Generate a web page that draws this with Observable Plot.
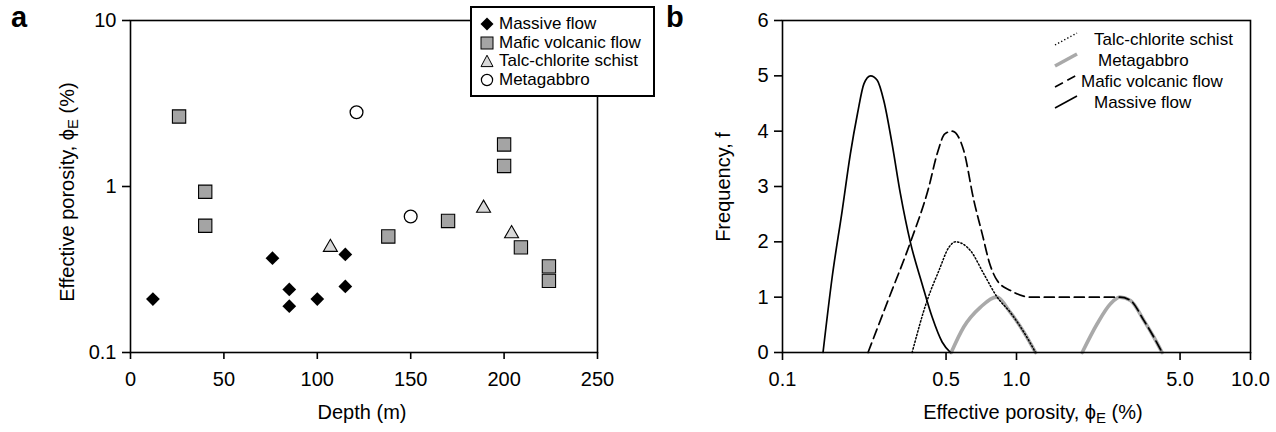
<!DOCTYPE html>
<html>
<head>
<meta charset="utf-8">
<script src="https://cdn.jsdelivr.net/npm/d3@7"></script>
<script src="https://cdn.jsdelivr.net/npm/@observablehq/plot@0.6"></script>
<style>
  html, body { margin: 0; padding: 0; background: white; }
  #wrap { position: relative; width: 1276px; height: 432px; overflow: hidden; font-family: "Liberation Sans", Arial, sans-serif; color: black; }
  #wrap svg { position: absolute; top: 0; }
  .lbl { position: absolute; white-space: nowrap; font-size: 20px; line-height: 1; }
  .panel { position: absolute; font-weight: bold; font-size: 29px; line-height: 1; }
  .leg { position: absolute; white-space: nowrap; font-size: 17px; line-height: 1; }
  sub { font-size: 0.75em; vertical-align: -0.25em; line-height: 0; }
</style>
</head>
<body>
<div id="wrap"></div>
<script>
// ---------- Panel a: effective porosity vs depth ----------
const xTicksA = [0, 50, 100, 150, 200, 250];
const yTicksA = [0.1, 1, 10];

const massiveDepth = [12, 76, 85, 85, 100, 115, 115];
const massivePhi   = [0.21, 0.37, 0.24, 0.19, 0.21, 0.39, 0.25];

const maficDepth = [26, 40, 40, 138, 170, 200, 200, 209, 224, 224];
const maficPhi   = [2.64, 0.93, 0.58, 0.50, 0.62, 1.79, 1.33, 0.43, 0.33, 0.27];

const talcDepth = [107, 189, 204];
const talcPhi   = [0.43, 0.74, 0.52];

const metaDepth = [121, 150];
const metaPhi   = [2.8, 0.66];

const legendA = ["Massive flow", "Mafic volcanic flow", "Talc-chlorite schist", "Metagabbro"];

// ---------- Panel b: frequency vs effective porosity ----------
const xTicksB = [0.1, 0.5, 1, 5, 10];
const yTicksB = [0, 1, 2, 3, 4, 5, 6];

const massiveBPhi = [0.149, 0.163, 0.180, 0.195, 0.209, 0.223, 0.238, 0.254, 0.271, 0.294, 0.319, 0.352, 0.395, 0.436, 0.481, 0.522];
const massiveBF   = [0, 1.36, 2.57, 3.59, 4.31, 4.86, 5.0, 4.92, 4.55, 3.77, 2.87, 1.99, 1.24, 0.64, 0.19, 0];

const maficBPhi = [0.232, 0.286, 0.352, 0.422, 0.458, 0.494, 0.531, 0.595, 0.657, 0.714, 0.769, 0.827, 0.943, 1.148, 1.787, 2.764, 3.07, 3.50, 3.86, 4.19];
const maficBF   = [0, 1.0, 1.99, 2.99, 3.59, 3.95, 4.0, 3.65, 2.75, 2.14, 1.60, 1.30, 1.12, 1.0, 1.0, 1.0, 0.94, 0.58, 0.28, 0];

const talcBPhi = [0.358, 0.415, 0.466, 0.514, 0.549, 0.636, 0.725, 0.827, 0.943, 1.074, 1.206];
const talcBF   = [0, 0.94, 1.48, 1.90, 2.0, 1.84, 1.42, 1.0, 0.72, 0.37, 0];

const metaB1Phi = [0.526, 0.595, 0.702, 0.821, 0.943, 1.074, 1.206];
const metaB1F   = [0, 0.46, 0.82, 1.0, 0.72, 0.37, 0];
const metaB2Phi = [1.909, 2.213, 2.522, 2.764, 3.07, 3.50, 3.86, 4.19];
const metaB2F   = [0, 0.52, 0.88, 1.0, 0.94, 0.58, 0.28, 0];

const legendB = ["Talc-chlorite schist", "Metagabbro", "Mafic volcanic flow", "Massive flow"];

// ---------- helpers ----------
const zip = (xs, ys, kx, ky) => xs.map((v, i) => ({[kx]: v, [ky]: ys[i]}));
const FONT = "Liberation Sans, Arial, sans-serif";
const wrap = document.getElementById("wrap");

// ---------- Panel a ----------
const plotA = Plot.plot({
  width: 640, height: 432,
  marginLeft: 130, marginRight: 43, marginTop: 20, marginBottom: 80,
  style: {fontFamily: FONT, fontSize: "20px", background: "transparent", color: "black", overflow: "visible"},
  x: {domain: [0, 250]},
  y: {type: "log", domain: [0.1, 10]},
  marks: [
    Plot.frame({stroke: "black", strokeWidth: 1.6}),
    Plot.axisX({ticks: xTicksA, tickSize: 7, tickPadding: 12, label: null, strokeWidth: 1.6, fontSize: 20, tickFormat: d => String(d)}),
    Plot.axisY({ticks: yTicksA, tickSize: 8, tickPadding: 6, label: null, strokeWidth: 1.6, fontSize: 20, tickFormat: d => String(d)}),
    Plot.dot(zip(massiveDepth, massivePhi, "depth", "phi"), {x: "depth", y: "phi", symbol: "diamond2", r: 6.2, fill: "black", stroke: "none"}),
    Plot.dot(zip(maficDepth, maficPhi, "depth", "phi"), {x: "depth", y: "phi", symbol: "square", r: 7.5, fill: "#a4a4a4", stroke: "black", strokeWidth: 1.1}),
    Plot.dot(zip(talcDepth, talcPhi, "depth", "phi"), {x: "depth", y: "phi", symbol: "triangle", r: 5.2, fill: "#d8d8d8", stroke: "black", strokeWidth: 1.1}),
    Plot.dot(zip(metaDepth, metaPhi, "depth", "phi"), {x: "depth", y: "phi", symbol: "circle", r: 6.4, fill: "white", stroke: "black", strokeWidth: 1.3})
  ]
});
plotA.style.left = "0px";
wrap.appendChild(plotA);

// ---------- Panel b ----------
const lineOpts = {x: "phi", y: "f", curve: "monotone-x"};
const plotB = Plot.plot({
  width: 636, height: 432,
  marginLeft: 142, marginRight: 26, marginTop: 20, marginBottom: 80,
  style: {fontFamily: FONT, fontSize: "20px", background: "transparent", color: "black", overflow: "visible"},
  x: {type: "log", domain: [0.1, 10]},
  y: {domain: [0, 6]},
  marks: [
    Plot.line(zip(metaB1Phi, metaB1F, "phi", "f"), {...lineOpts, stroke: "#a9a9a9", strokeWidth: 3.6}),
    Plot.line(zip(metaB2Phi, metaB2F, "phi", "f"), {...lineOpts, stroke: "#a9a9a9", strokeWidth: 3.6}),
    Plot.line(zip(talcBPhi, talcBF, "phi", "f"), {...lineOpts, stroke: "black", strokeWidth: 1.5, strokeDasharray: "1.3,2.2"}),
    Plot.line(zip(maficBPhi, maficBF, "phi", "f"), {...lineOpts, stroke: "black", strokeWidth: 1.7, strokeDasharray: "10,5"}),
    Plot.line(zip(massiveBPhi, massiveBF, "phi", "f"), {...lineOpts, stroke: "black", strokeWidth: 1.7}),
    Plot.frame({stroke: "black", strokeWidth: 1.6}),
    Plot.axisX({ticks: xTicksB, tickSize: 8, tickPadding: 11, label: null, strokeWidth: 1.6, fontSize: 20, tickFormat: d => d.toFixed(1)}),
    Plot.axisY({ticks: yTicksB, tickSize: 8, tickPadding: 6, label: null, strokeWidth: 1.6, fontSize: 20, tickFormat: d => String(d)})
  ]
});
plotB.style.left = "640px";
wrap.appendChild(plotB);

// ---------- HTML overlays: panel letters, axis titles ----------
function addDiv(cls, html, css) {
  const d = document.createElement("div");
  d.className = cls;
  d.innerHTML = html;
  Object.assign(d.style, css);
  wrap.appendChild(d);
  return d;
}
addDiv("panel", "a", {left: "11px", top: "3px"});
addDiv("panel", "b", {left: "666px", top: "3px"});

const phiLabel = "Effective porosity, \u03D5<sub>E</sub> (%)";
addDiv("lbl", "Depth (m)", {left: "362px", top: "412px", transform: "translate(-50%,-50%)"});
addDiv("lbl", phiLabel, {left: "67px", top: "192px", transform: "translate(-50%,-50%) rotate(-90deg)"});
addDiv("lbl", phiLabel, {left: "1033px", top: "412px", transform: "translate(-50%,-50%)"});
addDiv("lbl", "Frequency, f", {left: "723px", top: "187px", transform: "translate(-50%,-50%) rotate(-90deg)"});

// ---------- Legend a (boxed) ----------
addDiv("leg", "", {left: "470px", top: "6px", width: "181px", height: "87px", border: "2px solid black", background: "white"});
const symA = [
  '<polygon points="7,0.5 13.5,7 7,13.5 0.5,7" fill="black"/>',
  '<rect x="1" y="1" width="12" height="12" fill="#a4a4a4" stroke="black" stroke-width="1"/>',
  '<polygon points="7,1.2 13,12.6 1,12.6" fill="#d8d8d8" stroke="black" stroke-width="1"/>',
  '<circle cx="7" cy="7" r="5.6" fill="white" stroke="black" stroke-width="1.2"/>'
];
legendA.forEach((name, i) => {
  const cy = 24 + 18.7 * i;
  addDiv("leg", `<svg width="14" height="14" style="position:absolute;left:0;top:0">${symA[i]}</svg>`, {left: "480px", top: (cy - 7) + "px", width: "14px", height: "14px"});
  addDiv("leg", name, {left: "499px", top: (cy - 9) + "px"});
});

// ---------- Legend b (no box) ----------
const dashB = ['stroke="black" stroke-width="1.4" stroke-dasharray="1.3,2.2"',
               'stroke="#a9a9a9" stroke-width="3.6"',
               'stroke="black" stroke-width="1.6" stroke-dasharray="9,5"',
               'stroke="black" stroke-width="1.6"'];
const textXB = [1094, 1098, 1081, 1094];
legendB.forEach((name, i) => {
  const cy = 40 + 21 * i;
  addDiv("leg", `<svg width="26" height="16" style="position:absolute;left:0;top:0"><line x1="1" y1="14" x2="23" y2="2" ${dashB[i]}/></svg>`, {left: "1054px", top: (cy - 9) + "px", width: "26px", height: "16px"});
  addDiv("leg", name, {left: textXB[i] + "px", top: (cy - 9) + "px"});
});
</script>
</body>
</html>
